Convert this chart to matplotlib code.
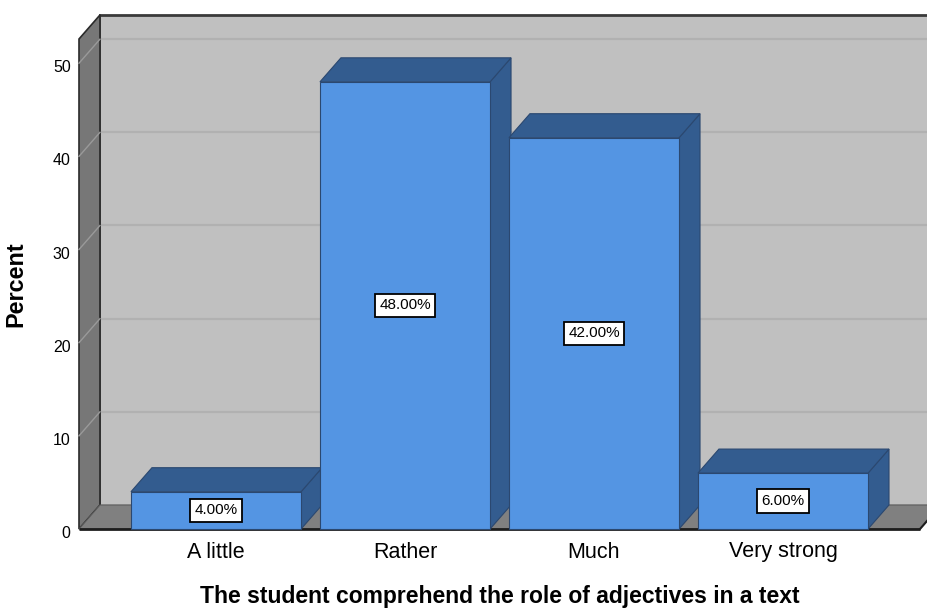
#!/usr/bin/env python
""" plot.py: SPSS-style 3D bar chart of adjective comprehension answers. """

import numpy as np
import matplotlib
matplotlib.use('Agg')
import matplotlib.pyplot as plt
import matplotlib.transforms as mtransforms
from matplotlib.patches import Polygon, Rectangle

plt.rcParams['font.family'] = ['Liberation Sans', 'DejaVu Sans']

# Data
categories = ['A little', 'Rather', 'Much', 'Very strong']
percents = [4.0, 48.0, 42.0, 6.0]
y_ticks = [0, 10, 20, 30, 40, 50]

# Colours
wall_back = '#c0c0c0'
wall_side = '#777777'
floor_col = '#808080'
grid_col = '#b1b1b1'
bar_front = '#5495e3'
bar_dark = '#335c8f'
edge_col = '#2b4870'

# Geometry in data units
bar_w = 0.9
xmin, xmax = -0.725, 3.725
ymin, ymax = 0.0, 52.6
ddx, ddy = 0.111, 2.58      # depth offset of the back plane

fig = plt.figure(figsize=(9.28, 6.09), dpi=100)
ax = fig.add_axes([79/928, 80/609, 841/928, (529-39)/609])
ax.set_xlim(xmin, xmax)
ax.set_ylim(ymin, ymax)
ax.patch.set_visible(False)
for s in ax.spines.values():
    s.set_visible(False)

def poly(pts, fc, ec='none', lw=0.0, z=1):
    p = Polygon(pts, closed=True, facecolor=fc, edgecolor=ec, linewidth=lw,
                zorder=z, clip_on=False, joinstyle='miter')
    ax.add_patch(p)
    return p

## Back wall
poly([(xmin+ddx, ymin+ddy), (xmax+ddx, ymin+ddy), (xmax+ddx, ymax+ddy),
      (xmin+ddx, ymax+ddy)], wall_back, z=0.5)
for v in y_ticks[1:]:
    ax.plot([xmin+ddx, xmax+ddx], [v+ddy, v+ddy], color=grid_col, lw=1.6,
            zorder=0.6, clip_on=False, solid_capstyle='butt')
ax.plot([xmin+ddx, xmax+ddx], [ymax+ddy, ymax+ddy], color='#3a3a3a', lw=2.0,
        zorder=0.7, clip_on=False)
ax.plot([xmin+ddx, xmin+ddx], [ymin+ddy, ymax+ddy], color='#3a3a3a', lw=1.2,
        zorder=0.7, clip_on=False)

## Left side wall
poly([(xmin, ymin), (xmin+ddx, ymin+ddy), (xmin+ddx, ymax+ddy), (xmin, ymax)],
     wall_side, ec='#2a2a2a', lw=1.2, z=0.8)
for v in y_ticks[1:]:
    ax.plot([xmin, xmin+ddx], [v, v+ddy], color='#9a9a9a', lw=1.0,
            zorder=0.85, clip_on=False)

## Floor
poly([(xmin, ymin), (xmax, ymin), (xmax+ddx, ymin+ddy), (xmin+ddx, ymin+ddy)],
     floor_col, ec='#5a5a5a', lw=0.8, z=0.9)
ax.plot([xmin, xmax], [ymin, ymin], color='#1e1e1e', lw=2.0, zorder=0.95,
        clip_on=False, solid_capstyle='butt')
ax.plot([xmax, xmax+ddx], [ymin, ymin+ddy], color='#1e1e1e', lw=1.5,
        zorder=0.95, clip_on=False)

## Bars
xpos = np.arange(len(categories))
for i, (x, v) in enumerate(zip(xpos, percents)):
    z = 2 + i
    l, r = x - bar_w/2, x + bar_w/2
    # side face
    poly([(r, 0), (r+ddx, ddy), (r+ddx, v+ddy), (r, v)], bar_dark,
         ec=edge_col, lw=0.8, z=z)
    # top face
    poly([(l, v), (r, v), (r+ddx, v+ddy), (l+ddx, v+ddy)], bar_dark,
         ec=edge_col, lw=0.8, z=z)
    # front face
    ax.add_patch(Rectangle((l, 0), bar_w, v, facecolor=bar_front,
                           edgecolor=edge_col, linewidth=0.8, zorder=z + 0.1,
                           clip_on=False))
    ax.text(x, v/2, '%.2f%%' % v, ha='center', va='center', fontsize=11,
            zorder=10,
            bbox=dict(boxstyle='square,pad=0.3', facecolor='white',
                      edgecolor='black', linewidth=1.3))

## Axes format
ax.set_xticks(xpos)
ax.set_xticklabels(categories, fontsize=15.5)
ax.set_yticks(y_ticks)
ax.set_yticklabels([str(t) for t in y_ticks], fontsize=11.5)
ax.tick_params(axis='x', length=0, pad=9)
ax.tick_params(axis='y', length=0, pad=6)
# y tick labels sit a little below their gridlines
shift = mtransforms.ScaledTranslation(0, -3/100, fig.dpi_scale_trans)
for lab in ax.get_yticklabels():
    lab.set_transform(lab.get_transform() + shift)
ax.set_xlabel('The student comprehend the role of adjectives in a text',
              fontsize=16.5, fontweight='bold', labelpad=16)
ax.set_ylabel('Percent', fontsize=16.8, fontweight='bold', labelpad=18)

fig.savefig('out.png', dpi=100)
